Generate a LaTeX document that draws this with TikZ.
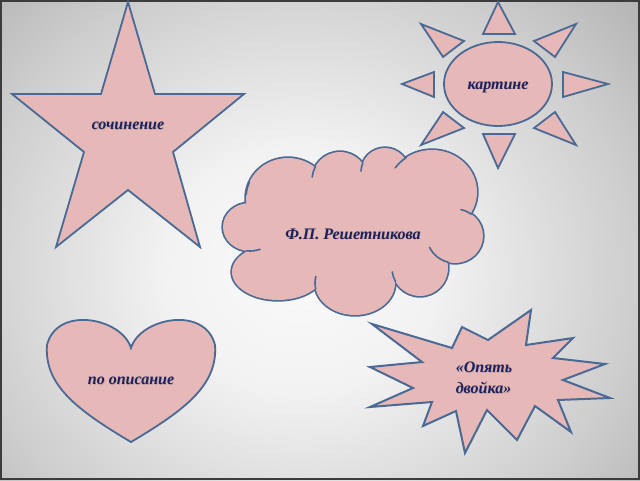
\documentclass[tikz,border=0pt]{standalone}
\usepackage{fontspec}
\setmainfont{Liberation Serif}
\definecolor{edgeblue}{RGB}{74,106,150}
\definecolor{pinkfill}{RGB}{230,184,183}
\definecolor{navytext}{RGB}{28,32,92}
\definecolor{bgA}{RGB}{250,250,250}
\definecolor{bgB}{RGB}{242,242,242}
\definecolor{bgC}{RGB}{205,205,205}
\definecolor{bgD}{RGB}{168,168,168}
\definecolor{bgE}{RGB}{140,140,140}
\definecolor{bgF}{RGB}{128,128,128}
\definecolor{framec}{RGB}{60,60,60}
\pgfdeclareradialshading{bgrad}{\pgfpoint{0bp}{0bp}}{color(0bp)=(bgA); color(8bp)=(bgB); color(20bp)=(bgC); color(30bp)=(bgD); color(42bp)=(bgE); color(50bp)=(bgF)}
\begin{document}
\begin{tikzpicture}[x=1pt,y=-1pt,
  shapeline/.style={draw=edgeblue,line width=1.8pt,line join=miter,fill=pinkfill},
  innerarc/.style={draw=edgeblue,line width=1.6pt,line cap=round},
  lbl/.style={text=navytext,font=\fontsize{16}{19}\selectfont\bfseries\itshape,inner sep=0pt},
  lblshadow/.style={text=black!45,opacity=0.4,font=\fontsize{16}{19}\selectfont\bfseries\itshape,inner sep=0pt}]
% background
\useasboundingbox (0,0) rectangle (640,480);
\begin{scope}
\clip (0,0) rectangle (640,480);
\shade[shading=bgrad] (-124,-112) rectangle (724,652);
\end{scope}
\draw[framec,line width=2pt] (1,1) rectangle (639,479);
% star
\draw[shapeline] (128,2) -- (155,94) -- (244,94) -- (173,152) -- (200,247) -- (128,190)
  -- (56,247) -- (84,152) -- (12,94) -- (101,94) -- cycle;
\node[lblshadow] at (128.8,126.8) {сочинение};
\node[lbl] (t1) at (128,126) {сочинение};
% sun
\draw[shapeline] (498,84) ellipse [x radius=54,y radius=42];
\draw[shapeline] (498,2) -- (515,34) -- (483,34) -- cycle;
\draw[shapeline] (498,168) -- (515,134) -- (483,134) -- cycle;
\draw[shapeline] (402,84) -- (434,72) -- (434,97) -- cycle;
\draw[shapeline] (608,84) -- (563,72) -- (563,97) -- cycle;
\draw[shapeline] (421,24) -- (464,41) -- (443,57) -- cycle;
\draw[shapeline] (576,24) -- (534,41) -- (555,57) -- cycle;
\draw[shapeline] (443,112) -- (464,128) -- (421,145) -- cycle;
\draw[shapeline] (555,112) -- (534,128) -- (576,145) -- cycle;
\node[lblshadow] at (498.8,87.8) {картине};
\node[lbl] (t2) at (498,87) {картине};
% cloud (union of elliptic lobes)
\foreach \cx/\cy/\rx/\ry in {250/227/27/24, 288/198/42/40, 340/180/28/28, 385/172/24/24,
  432/192/45/42, 455/236/28/27, 420/268/28/28, 355/283/40/32, 278/272/46/28}
  \draw[edgeblue,line width=3.4pt] (\cx,\cy) ellipse [x radius=\rx,y radius=\ry];
\foreach \cx/\cy/\rx/\ry in {250/227/27/24, 288/198/42/40, 340/180/28/28, 385/172/24/24,
  432/192/45/42, 455/236/28/27, 420/268/28/28, 355/283/40/32, 278/272/46/28}
  \fill[pinkfill] (\cx,\cy) ellipse [x radius=\rx,y radius=\ry];
\fill[pinkfill] (250,227) -- (288,198) -- (340,180) -- (385,172) -- (432,192) -- (455,236)
  -- (420,268) -- (355,283) -- (278,272) -- cycle;
% inner arcs of the cloud (angles measured with y downwards)
\foreach \cx/\cy/\rx/\ry/\sa/\ea in {288/198/42/40/185/203, 250/227/27/24/97/68,
  340/180/28/28/209/186, 385/172/24/24/203/182, 432/192/45/42/235/215,
  455/236/28/27/306/282, 455/236/28/27/104/155, 420/268/28/28/151/172,
  355/283/40/32/169/192}
  \draw[innerarc] (\cx,\cy) ++(\sa:{\rx} and {\ry}) arc[start angle=\sa,end angle=\ea,x radius=\rx,y radius=\ry];
\node[lblshadow] at (353.8,234.8) {Ф.П. Решетникова};
\node[lbl] (t3) at (353,234) {Ф.П. Решетникова};
% heart
\draw[shapeline] (131,348) .. controls (140,318) and (205,305) .. (215,345)
  .. controls (218,385) and (185,410) .. (131,442)
  .. controls (77,410) and (44,385) .. (47,345)
  .. controls (57,305) and (122,318) .. (131,348) -- cycle;
\node[lblshadow] at (131.8,381.8) {по описание};
\node[lbl] (t4) at (131,381) {по описание};
% explosion
\draw[shapeline,line width=2pt] (372,324) -- (452,348) -- (462,327) -- (488,340) -- (531,310)
  -- (526,345) -- (573,338) -- (553,358) -- (605,364) -- (563,380) -- (610,398)
  -- (558,400) -- (571,432) -- (535,406) -- (517,440) -- (487,410) -- (465,453)
  -- (456,411) -- (423,426) -- (432,402) -- (370,407) -- (413,388) -- (370,367)
  -- (422,362) -- cycle;
\node[lblshadow,align=left] at (484.8,378.8) {«Опять\\[2pt]двойка»};
\node[lbl,align=left] (t5) at (484,378) {«Опять\\[2pt]двойка»};
\end{tikzpicture}
\end{document}
